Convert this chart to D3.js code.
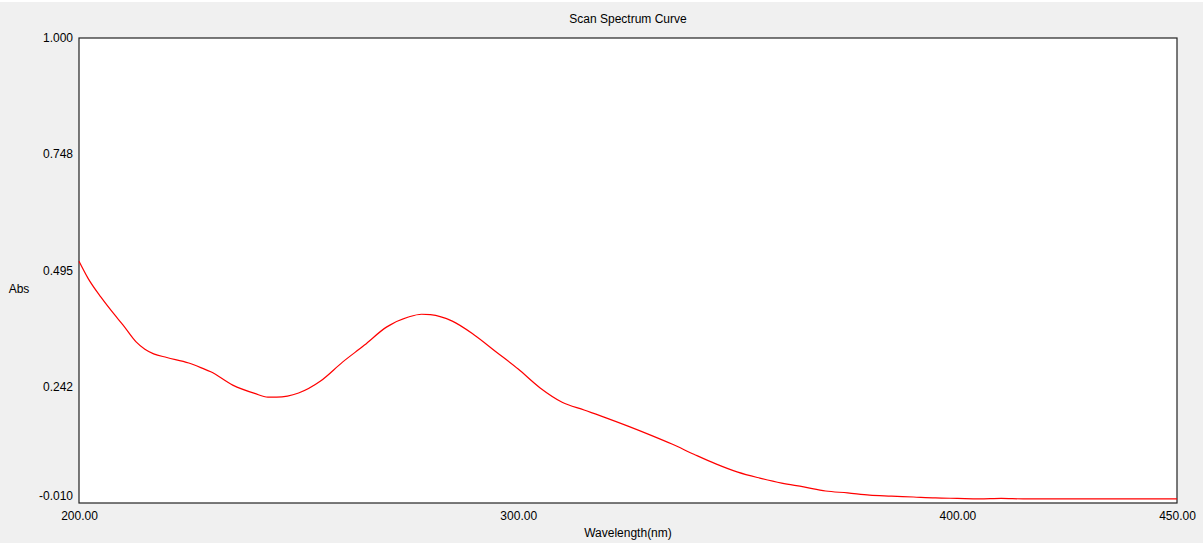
<!DOCTYPE html>
<meta charset="utf-8">
<script src="https://d3js.org/d3.v7.min.js"></script>
<style>
  body { margin: 0; background: #fff; }
  text { font-family: "Liberation Sans", Arial, sans-serif; font-size: 12px; fill: #000; }
</style>
<div id="chart"></div>
<script>
// scan data
var wavelength = [200, 202, 205, 208, 210, 213, 215, 217, 220, 225, 228, 230, 235, 240, 243, 245,
  250, 255, 260, 265, 270, 275, 278, 280, 285, 290, 295, 300, 305, 310, 315, 320, 325, 330,
  335, 340, 345, 350, 355, 360, 365, 370, 375, 380, 385, 390, 395, 400, 405, 410, 415, 420,
  430, 440, 450];
var absorbance = [0.515, 0.479, 0.437, 0.400, 0.377, 0.340, 0.324, 0.314, 0.306, 0.294, 0.283, 0.275,
  0.246, 0.228, 0.220, 0.220, 0.229, 0.255, 0.296, 0.333, 0.372, 0.394, 0.400, 0.399, 0.385,
  0.355, 0.318, 0.281, 0.240, 0.209, 0.192, 0.175, 0.157, 0.138, 0.118, 0.096, 0.075, 0.057,
  0.044, 0.033, 0.025, 0.016, 0.012, 0.007, 0.005, 0.003, 0.001, 0.000, -0.001, 0.000, -0.001,
  -0.001, -0.001, -0.001, -0.001];
var yTicks = [1.000, 0.748, 0.495, 0.242, -0.010];
var xTicks = [200, 300, 400, 450];

var W = 1203, H = 544;
var margin = {top: 38, right: 26, bottom: 41, left: 79};
var width = W - margin.left - margin.right,
    height = H - margin.top - margin.bottom;

var svg = d3.select("#chart").append("svg")
  .attr("width", W)
  .attr("height", H);

// grey panel
svg.append("rect")
  .attr("x", 0).attr("y", 2)
  .attr("width", W).attr("height", H - 3)
  .attr("fill", "#f0f0f0");

var g = svg.append("g")
  .attr("transform", "translate(" + margin.left + "," + margin.top + ")");

var x = d3.scaleLinear().domain([200, 450]).range([0, width]);
var y = d3.scaleLinear().domain([-0.010, 1.000]).range([height, 0]);

g.append("rect")
  .attr("width", width).attr("height", height)
  .attr("fill", "#fff")
  .attr("stroke", "#222")
  .attr("stroke-width", 1.2);

// y axis labels (plain hyphen for the minus, like the original)
var yAxis = g.append("g")
  .call(d3.axisLeft(y).tickValues(yTicks).tickSize(0).tickPadding(6)
    .tickFormat(function(d) { return d.toFixed(3); }));
yAxis.select(".domain").remove();
yAxis.selectAll("text")
  .attr("font-size", null).attr("font-family", null)
  .attr("dy", function(d) { return d === -0.010 ? "-0.28em" : "0.32em"; });

// x axis labels
var xAxis = g.append("g")
  .attr("transform", "translate(0," + height + ")")
  .call(d3.axisBottom(x).tickValues(xTicks).tickSize(0).tickPadding(8)
    .tickFormat(function(d) { return d.toFixed(2); }));
xAxis.select(".domain").remove();
xAxis.selectAll("text").attr("font-size", null).attr("font-family", null);

// curve
g.append("path")
  .datum(wavelength.map(function(w, i) { return [w, absorbance[i]]; }))
  .attr("fill", "none")
  .attr("stroke", "#ff0000")
  .attr("stroke-width", 1.2)
  .attr("d", d3.line()
    .x(function(d) { return x(d[0]); })
    .y(function(d) { return y(d[1]); })
    .curve(d3.curveMonotoneX));

// titles
svg.append("text")
  .attr("x", margin.left + width / 2).attr("y", 23)
  .attr("text-anchor", "middle")
  .text("Scan Spectrum Curve");
svg.append("text")
  .attr("x", margin.left + width / 2).attr("y", 537)
  .attr("text-anchor", "middle")
  .text("Wavelength(nm)");
svg.append("text")
  .attr("x", 19).attr("y", 293)
  .attr("text-anchor", "middle")
  .text("Abs");
</script>
